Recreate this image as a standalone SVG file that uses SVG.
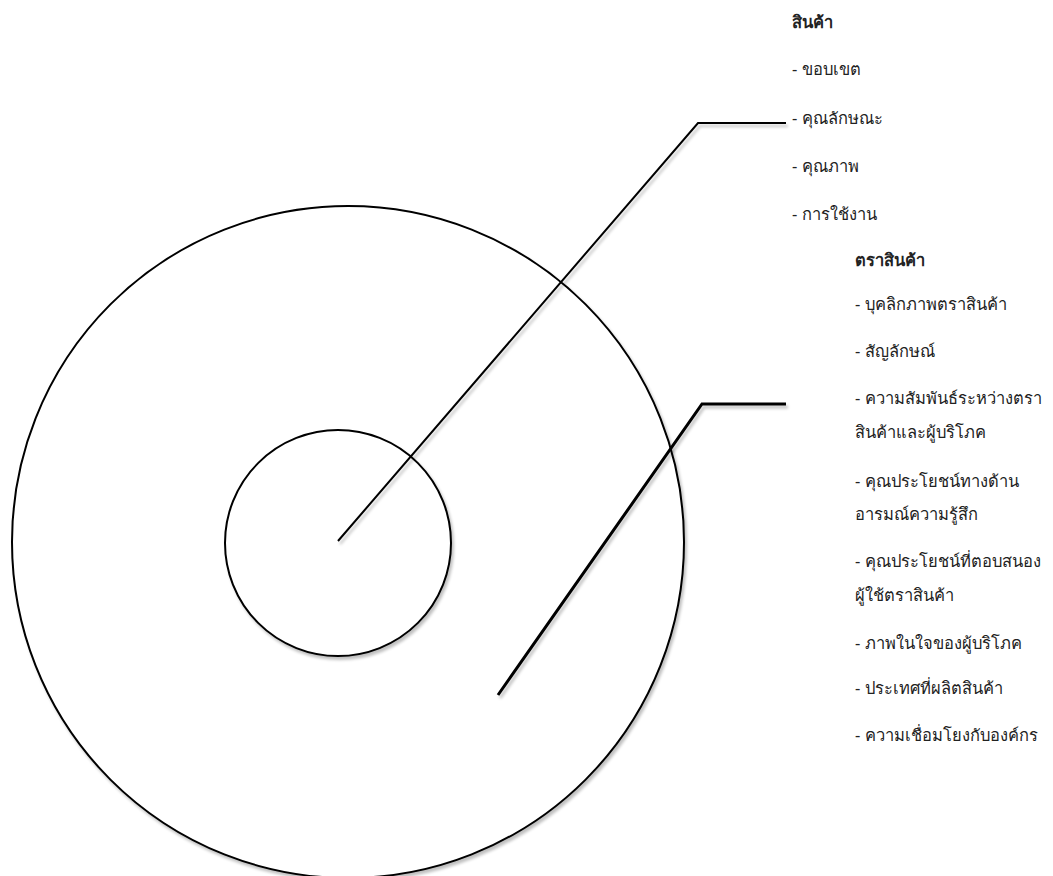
<svg xmlns="http://www.w3.org/2000/svg" width="1053" height="876" viewBox="0 0 1053 876">
<defs>
<filter id="sh" x="-10%" y="-10%" width="120%" height="120%">
<feGaussianBlur in="SourceAlpha" stdDeviation="1.5"/>
<feOffset dx="1.5" dy="2.5" result="b"/>
<feComponentTransfer><feFuncA type="linear" slope="0.25"/></feComponentTransfer>
<feMerge><feMergeNode/><feMergeNode in="SourceGraphic"/></feMerge>
</filter>
</defs>
<style>
.c{fill:#fff;stroke:#000;stroke-width:2}
.l{fill:none;stroke:#000;stroke-width:2}
.t{font-family:"Noto Sans","DejaVu Sans",sans-serif;font-size:16.5px;fill:#222}
.b{font-weight:bold}
</style>
<rect width="1053" height="876" fill="#fff"/>
<g id="outer" filter="url(#sh)"><circle class="c" cx="348" cy="542" r="336"/></g>
<g id="inner" filter="url(#sh)"><circle class="c" cx="338" cy="543" r="113"/></g>
<g id="connectors" filter="url(#sh)">
<polyline class="l" points="338,541 698,123 786,123"/>
<polyline class="l" points="498,695 702,404 786,404" style="stroke-width:3"/>
</g>
<g id="product">
<text class="t b" x="792" y="28">สินค้า</text>
<text class="t" x="792" y="75">- ขอบเขต</text>
<text class="t" x="792" y="124">- คุณลักษณะ</text>
<text class="t" x="792" y="172">- คุณภาพ</text>
<text class="t" x="792" y="220">- การใช้งาน</text>
</g>
<g id="brand">
<text class="t b" x="855" y="266">ตราสินค้า</text>
<text class="t" x="855" y="310">- บุคลิกภาพตราสินค้า</text>
<text class="t" x="855" y="357">- สัญลักษณ์</text>
<text class="t" x="855" y="404">- ความสัมพันธ์ระหว่างตรา</text>
<text class="t" x="855" y="438">สินค้าและผู้บริโภค</text>
<text class="t" x="855" y="487">- คุณประโยชน์ทางด้าน</text>
<text class="t" x="855" y="520">อารมณ์ความรู้สึก</text>
<text class="t" x="855" y="567">- คุณประโยชน์ที่ตอบสนอง</text>
<text class="t" x="855" y="601">ผู้ใช้ตราสินค้า</text>
<text class="t" x="855" y="649">- ภาพในใจของผู้บริโภค</text>
<text class="t" x="855" y="694">- ประเทศที่ผลิตสินค้า</text>
<text class="t" x="855" y="741">- ความเชื่อมโยงกับองค์กร</text>
</g>
</svg>
